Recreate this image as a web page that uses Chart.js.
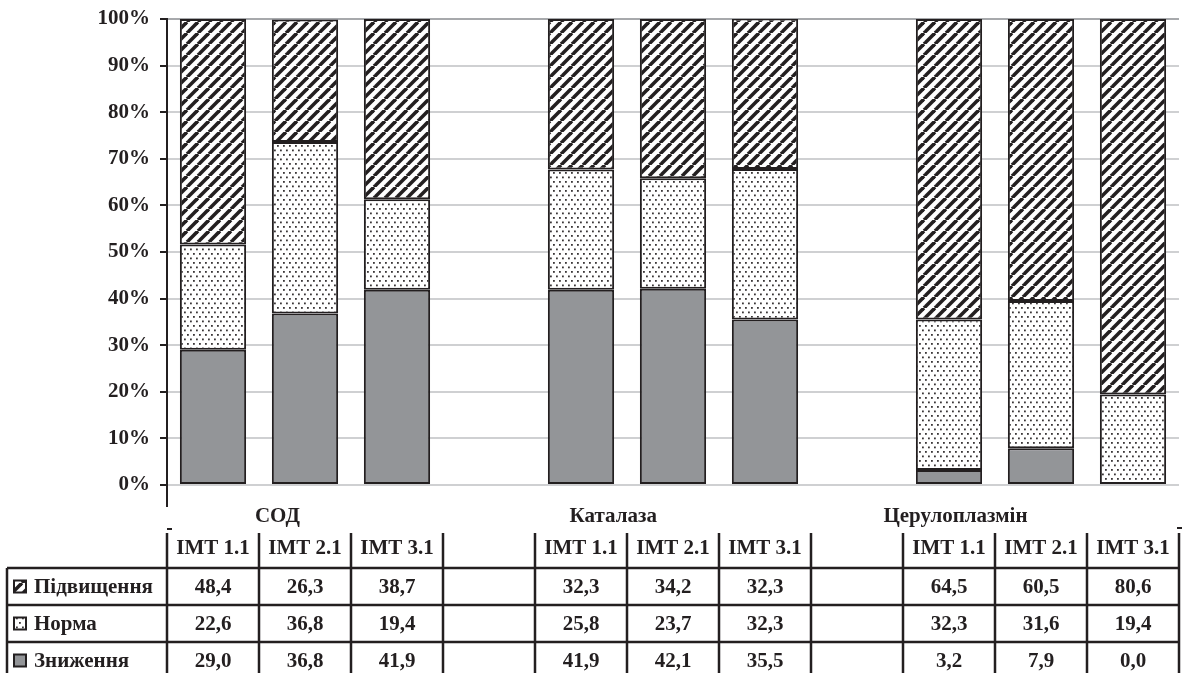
<!DOCTYPE html>
<html>
<head>
<meta charset="utf-8">
<script src="https://cdn.jsdelivr.net/npm/chart.js@4/dist/chart.umd.min.js"></script>
<style>
  html, body { margin: 0; padding: 0; background: #fff; }
  #wrap { width: 1182px; height: 673px; }
</style>
</head>
<body>
<div id="wrap"><canvas id="chart" width="1182" height="673"></canvas></div>
<script>
var categories = ['IMT 1.1', 'IMT 2.1', 'IMT 3.1', '', 'IMT 1.1', 'IMT 2.1', 'IMT 3.1', '', 'IMT 1.1', 'IMT 2.1', 'IMT 3.1'];
var groupNames = ['СОД', 'Каталаза', 'Церулоплазмін'];
var seriesNames = ['Підвищення', 'Норма', 'Зниження'];
var raised = [48.4, 26.3, 38.7, null, 32.3, 34.2, 32.3, null, 64.5, 60.5, 80.6];
var normal = [22.6, 36.8, 19.4, null, 25.8, 23.7, 32.3, null, 32.3, 31.6, 19.4];
var lowered = [29.0, 36.8, 41.9, null, 41.9, 42.1, 35.5, null, 3.2, 7.9, 0.0];
var yTickLabels = ['0%', '10%', '20%', '30%', '40%', '50%', '60%', '70%', '80%', '90%', '100%'];

var ink = '#231f20';
var grey = '#939598';
var family = '"Liberation Serif", "DejaVu Serif", serif';
var font = 'bold 21px ' + family;

function makeHatch() {
    var s = 11;
    var c = document.createElement('canvas');
    c.width = s; c.height = s;
    var g = c.getContext('2d');
    g.fillStyle = '#fff';
    g.fillRect(0, 0, s, s);
    g.strokeStyle = ink;
    g.lineWidth = 3.6;
    [-s, 0, s].forEach(function (k) {
        g.beginPath();
        g.moveTo(k, s);
        g.lineTo(k + s, 0);
        g.stroke();
    });
    return g.createPattern(c, 'repeat');
}
function makeDots() {
    var c = document.createElement('canvas');
    c.width = 6; c.height = 9;
    var g = c.getContext('2d');
    g.fillStyle = '#fff';
    g.fillRect(0, 0, 6, 9);
    g.fillStyle = '#3a3637';
    [[1, 1], [4, 5.5]].forEach(function (p) {
        g.fillRect(p[0], p[1], 1.8, 1.8);
    });
    return g.createPattern(c, 'repeat');
}
var hatch = makeHatch();
var dots = makeDots();
var fills = [hatch, dots, grey];
var seriesData = [raised, normal, lowered];

function fmt(v) {
    return v.toFixed(1).replace('.', ',');
}

var tablePlugin = {
    id: 'dataTable',
    afterDraw: function (chart) {
        var ctx = chart.ctx;
        var x = chart.scales.x;
        var area = chart.chartArea;
        var n = categories.length;
        var colW = (x.right - x.left) / n;
        var right = x.left + n * colW;
        var headTop = 533, bodyTop = 568, rowH = 37, bottom = 673;
        ctx.save();
        ctx.strokeStyle = ink;
        ctx.fillStyle = ink;

        // axis extension below zero
        ctx.lineWidth = 2;
        ctx.beginPath();
        ctx.moveTo(x.left, area.bottom);
        ctx.lineTo(x.left, 507);
        ctx.stroke();
        ctx.beginPath();
        ctx.moveTo(x.left, 529); ctx.lineTo(x.left + 5, 529);
        ctx.moveTo(right - 2, 528); ctx.lineTo(right + 3, 528);
        ctx.stroke();

        // group labels
        ctx.font = font;
        ctx.textAlign = 'center';
        ctx.textBaseline = 'middle';
        var groupAt = [0.7, 4.35, 8.07];
        groupNames.forEach(function (name, i) {
            ctx.fillText(name, x.left + (groupAt[i] + 0.5) * colW, 517);
        });

        // grid of the table
        ctx.lineWidth = 2.5;
        ctx.beginPath();
        for (var r = 0; r < 4; r++) {
            var yy = bodyTop + r * rowH;
            ctx.moveTo(7, yy);
            ctx.lineTo(right, yy);
        }
        ctx.moveTo(7, bodyTop);
        ctx.lineTo(7, bottom);
        for (var b = 0; b <= n; b++) {
            var xx = x.left + b * colW;
            ctx.moveTo(xx, headTop);
            ctx.lineTo(xx, bottom);
        }
        ctx.stroke();

        // header and values
        for (var i = 0; i < n; i++) {
            var cx = x.left + (i + 0.5) * colW;
            if (categories[i]) {
                ctx.fillText(categories[i], cx, 549);
            }
            seriesData.forEach(function (arr, s) {
                if (arr[i] !== null) {
                    ctx.fillText(fmt(arr[i]), cx, bodyTop + s * rowH + rowH / 2 + 1);
                }
            });
        }

        // row labels with legend keys
        ctx.textAlign = 'left';
        seriesNames.forEach(function (name, s) {
            var cy = bodyTop + s * rowH + rowH / 2 + 1;
            ctx.fillStyle = fills[s];
            ctx.fillRect(14, cy - 7, 12, 12);
            ctx.lineWidth = 2;
            ctx.strokeStyle = ink;
            ctx.strokeRect(14, cy - 7, 12, 12);
            ctx.fillStyle = ink;
            ctx.fillText(name, 34, cy);
        });
        ctx.restore();
    }
};

function draw() {
    new Chart(document.getElementById('chart'), {
        type: 'bar',
        data: {
            labels: categories,
            datasets: [
                { label: seriesNames[2], data: lowered, backgroundColor: grey },
                { label: seriesNames[1], data: normal, backgroundColor: dots },
                { label: seriesNames[0], data: raised, backgroundColor: hatch }
            ].map(function (d) {
                d.borderColor = ink;
                d.borderWidth = 2;
                d.borderSkipped = false;
                d.categoryPercentage = 1;
                d.barPercentage = 0.72;
                return d;
            })
        },
        options: {
            responsive: false,
            animation: false,
            events: [],
            layout: { padding: { top: 19, right: 3, bottom: 188, left: 0 } },
            plugins: { legend: { display: false }, tooltip: { enabled: false } },
            scales: {
                x: { stacked: true, display: false },
                y: {
                    stacked: true,
                    min: 0,
                    max: 100,
                    afterFit: function (scale) {
                        scale.width = 167;
                        scale.paddingTop = 0;
                        scale.paddingBottom = 0;
                    },
                    afterBuildTicks: function (scale) {
                        scale.ticks = yTickLabels.map(function (t, i) { return { value: i * 10 }; });
                    },
                    ticks: {
                        padding: 10,
                        color: ink,
                        font: { family: family, size: 21, weight: 'bold' },
                        callback: function (v, i) { return yTickLabels[i]; }
                    },
                    grid: {
                        color: function (c) {
                            if (c.tick && c.tick.value === 100) return '#a7a9ac';
                            return '#cfd0d2';
                        },
                        lineWidth: 2,
                        tickLength: 7,
                        tickColor: ink
                    },
                    border: { color: ink, width: 2 }
                }
            }
        },
        plugins: [tablePlugin]
    });
}

if (document.fonts && document.fonts.load) {
    document.fonts.load('bold 21px "Liberation Serif"', 'IMT 1.1 Підвищення').then(draw, draw);
} else {
    draw();
}
</script>
</body>
</html>
